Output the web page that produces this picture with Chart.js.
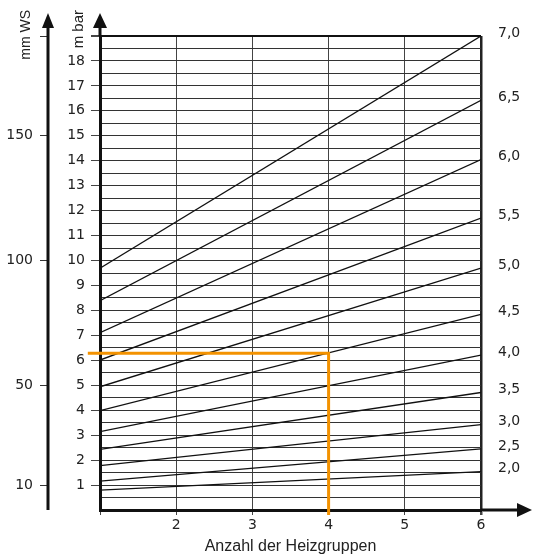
<!DOCTYPE html>
<html>
<head>
<meta charset="utf-8">
<script src="https://cdn.jsdelivr.net/npm/chart.js@4.4.1/dist/chart.umd.min.js"></script>
<style>
  body { margin: 0; background: #fff; }
  canvas { display: block; }
</style>
</head>
<body>
<canvas id="grafico" width="534" height="557"></canvas>
<script>
// Kennlinien: Wert bei 1 Heizgruppe und bei 6 Heizgruppen (m bar)
var startWerte = [0.80, 1.16, 1.78, 2.43, 3.14, 3.98, 4.94, 6.01, 7.11, 8.39, 9.69];
var endWerte = [1.54, 2.45, 3.42, 4.71, 6.21, 7.84, 9.70, 11.70, 14.05, 16.42, 19.0];
var kennlinienLabels = ['2,0', '2,5', '3,0', '3,5', '4,0', '4,5', '5,0', '5,5', '6,0', '6,5', '7,0'];

var xLabels = ['', '2', '3', '4', '5', '6'];
var mbarLabels = ['1', '2', '3', '4', '5', '6', '7', '8', '9', '10', '11', '12', '13', '14', '15', '16', '17', '18'];
var mmWsPositionen = [1, 5, 10, 15, 19];
var mmWsLabels = ['10', '50', '100', '150', ''];

// Ablesebeispiel (orange)
var beispielX = [0.84, 4, 4];
var beispielY = [6.28, 6.28, -0.2];

var schmal = "'Liberation Sans Narrow', 'Liberation Sans', sans-serif";
Chart.defaults.font.family = "'DejaVu Sans', sans-serif";
Chart.defaults.font.size = 14;
Chart.defaults.color = '#222';

var datasets = [];
datasets.push({
    data: beispielX.map(function (x, i) { return { x: x, y: beispielY[i] }; }),
    borderColor: '#f39200',
    borderWidth: 3,
    showLine: true,
    pointRadius: 0,
    clip: false
});
for (var i = 0; i < startWerte.length; i++) {
    datasets.push({
        data: [{ x: 1, y: startWerte[i] }, { x: 6, y: endWerte[i] }],
        borderColor: '#111',
        borderWidth: 1.3,
        showLine: true,
        pointRadius: 0
    });
}

function pfeil(ctx, x1, y1, x2, y2, x3, y3) {
    ctx.beginPath();
    ctx.moveTo(x1, y1);
    ctx.lineTo(x2, y2);
    ctx.lineTo(x3, y3);
    ctx.closePath();
    ctx.fill();
}

var achsenPlugin = {
    id: 'achsen',
    afterDraw: function (chart) {
        var ctx = chart.ctx;
        var area = chart.chartArea;
        var xWs = chart.scales.y2.right;
        ctx.save();
        ctx.strokeStyle = '#111';
        ctx.fillStyle = '#111';
        ctx.lineWidth = 3;

        // mm WS Achse
        ctx.beginPath();
        ctx.moveTo(xWs, area.bottom);
        ctx.lineTo(xWs, 26);
        ctx.stroke();
        pfeil(ctx, xWs - 6, 28, xWs, 13, xWs + 6, 28);

        // m bar Achse Verlaengerung
        ctx.beginPath();
        ctx.moveTo(area.left, area.top);
        ctx.lineTo(area.left, 26);
        ctx.stroke();
        pfeil(ctx, area.left - 7, 28, area.left, 13, area.left + 7, 28);

        // x Achse Verlaengerung
        ctx.beginPath();
        ctx.moveTo(area.right, area.bottom);
        ctx.lineTo(519, area.bottom);
        ctx.stroke();
        pfeil(ctx, 517, area.bottom - 7, 532, area.bottom, 517, area.bottom + 7);

        // Achsentitel
        ctx.font = '14px ' + schmal;
        ctx.fillStyle = '#222';
        ctx.textAlign = 'right';
        ctx.textBaseline = 'middle';
        ctx.save();
        ctx.translate(26, 10);
        ctx.rotate(-Math.PI / 2);
        ctx.fillText('mm WS', 0, 0);
        ctx.restore();
        ctx.font = '15px ' + schmal;
        ctx.translate(79, 10);
        ctx.rotate(-Math.PI / 2);
        ctx.fillText('m bar', 0, 0);
        ctx.restore();
    }
};

new Chart(document.getElementById('grafico').getContext('2d'), {
    type: 'scatter',
    data: { datasets: datasets },
    plugins: [achsenPlugin],
    options: {
        responsive: false,
        animation: false,
        layout: { padding: { top: 36, left: 0, right: 0, bottom: 0 } },
        plugins: { legend: { display: false }, tooltip: { enabled: false } },
        scales: {
            x: {
                type: 'linear',
                min: 1,
                max: 6,
                afterFit: function (scale) { scale.height = 47; },
                ticks: {
                    stepSize: 1,
                    padding: 2,
                    callback: function (value) { return xLabels[value - 1]; }
                },
                grid: {
                    tickLength: 5,
                    color: function (c) {
                        if (c.tick.value === 1) return 'rgba(0,0,0,0)';
                        return c.tick.value === 6 ? '#222' : '#444';
                    },
                    lineWidth: function (c) { return c.tick.value === 6 ? 2.5 : 1; },
                    tickColor: '#444'
                },
                border: { display: true, color: '#111', width: 3 },
                title: {
                    display: true,
                    text: 'Anzahl der Heizgruppen',
                    font: { family: schmal, size: 16 },
                    color: '#222',
                    padding: { top: 0, bottom: 1 }
                }
            },
            y2: {
                type: 'linear',
                position: 'left',
                weight: 10,
                min: 0,
                max: 19,
                afterFit: function (scale) { scale.width = 48; },
                afterBuildTicks: function (scale) {
                    scale.ticks = mmWsPositionen.map(function (v) { return { value: v }; });
                },
                ticks: {
                    autoSkip: false,
                    padding: 7,
                    callback: function (value, index) { return mmWsLabels[index]; }
                },
                grid: { drawOnChartArea: false, tickLength: 8, tickColor: '#333' },
                border: { display: false }
            },
            y: {
                type: 'linear',
                position: 'left',
                weight: 1,
                min: 0,
                max: 19,
                afterFit: function (scale) { scale.width = 52; },
                ticks: {
                    stepSize: 0.5,
                    maxTicksLimit: 100,
                    autoSkip: false,
                    padding: 6,
                    callback: function (value) {
                        return Number.isInteger(value) && value >= 1 ? (mbarLabels[value - 1] || '') : '';
                    }
                },
                grid: {
                    tickLength: 9,
                    color: function (c) {
                        if (c.tick.value === 0) return 'rgba(0,0,0,0)';
                        return c.tick.value === 19 ? '#111' : '#333';
                    },
                    lineWidth: function (c) { return c.tick.value === 19 ? 2 : 1; },
                    tickColor: function (c) {
                        return Number.isInteger(c.tick.value) && c.tick.value >= 1 ? '#444' : 'rgba(0,0,0,0)';
                    }
                },
                border: { display: true, color: '#111', width: 3 }
            },
            yR: {
                type: 'linear',
                position: 'right',
                min: 0,
                max: 19,
                afterFit: function (scale) { scale.width = 53; },
                afterBuildTicks: function (scale) {
                    scale.ticks = endWerte.map(function (v) { return { value: v }; });
                },
                ticks: {
                    autoSkip: false,
                    padding: 9,
                    labelOffset: -3,
                    callback: function (value, index) { return kennlinienLabels[index]; }
                },
                grid: { display: false },
                border: { display: false }
            }
        }
    }
});
</script>
</body>
</html>
